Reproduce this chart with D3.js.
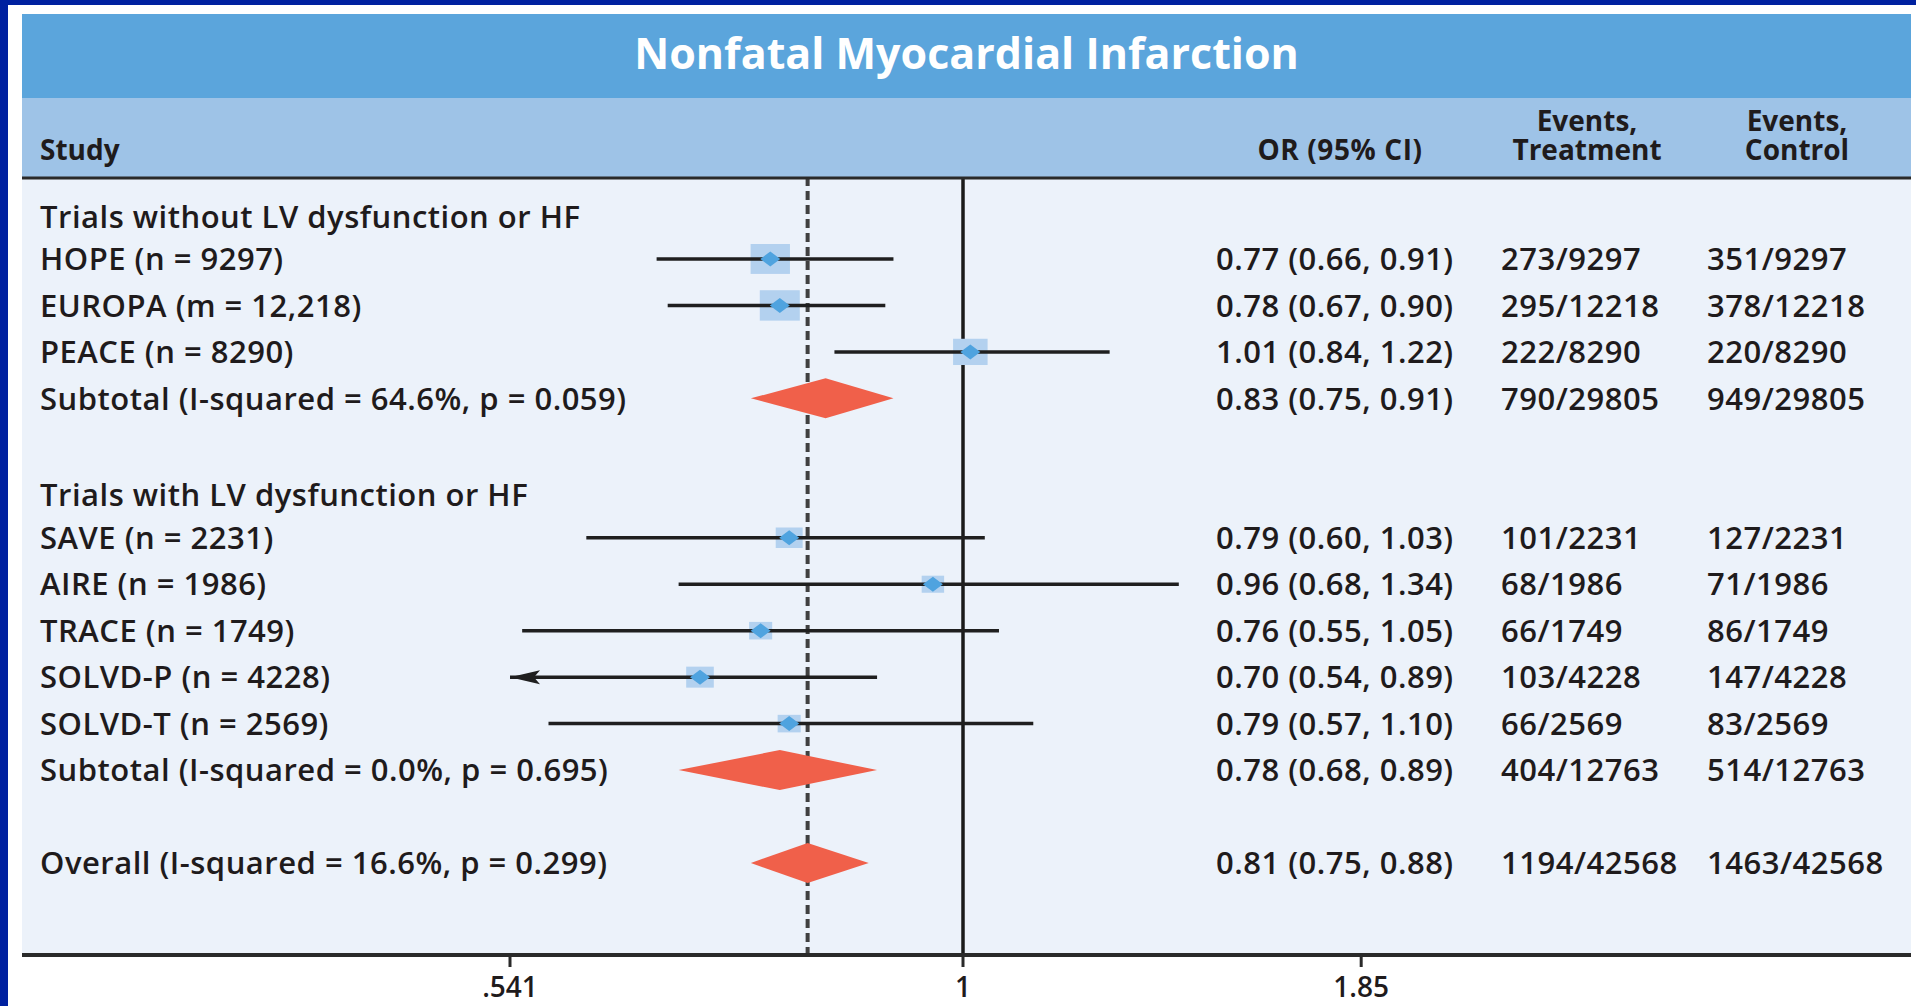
<!DOCTYPE html>
<html>
<head>
<meta charset="utf-8">
<script src="https://cdn.jsdelivr.net/npm/d3@7"></script>
<style>
  html, body { margin: 0; padding: 0; background: #0021a0; }
  svg { display: block; }
  text { font-family: "Open Sans", "Noto Sans", sans-serif; fill: #1f1b1c; }
</style>
</head>
<body>
<div id="chart"></div>
<script>
// data
var title = "Nonfatal Myocardial Infarction";
var groupLabels = ["Trials without LV dysfunction or HF", "Trials with LV dysfunction or HF"];

var studyLabels = ["HOPE (n = 9297)", "EUROPA (m = 12,218)", "PEACE (n = 8290)",
  "SAVE (n = 2231)", "AIRE (n = 1986)", "TRACE (n = 1749)", "SOLVD-P (n = 4228)", "SOLVD-T (n = 2569)"];
var studyGroup = [0, 0, 0, 1, 1, 1, 1, 1];
var studyOR = [0.77, 0.78, 1.01, 0.79, 0.96, 0.76, 0.70, 0.79];
var studyLo = [0.66, 0.67, 0.84, 0.60, 0.68, 0.55, 0.54, 0.57];
var studyHi = [0.91, 0.90, 1.22, 1.03, 1.34, 1.05, 0.89, 1.10];
var studyWeight = [20.9, 21.6, 16.1, 9.8, 6.8, 7.2, 10.3, 7.2]; // % weight, from box sizes
var studyTreat = ["273/9297", "295/12218", "222/8290", "101/2231", "68/1986", "66/1749", "103/4228", "66/2569"];
var studyCtrl = ["351/9297", "378/12218", "220/8290", "127/2231", "71/1986", "86/1749", "147/4228", "83/2569"];

var pooledLabels = ["Subtotal (I-squared = 64.6%, p = 0.059)", "Subtotal (I-squared = 0.0%, p = 0.695)",
  "Overall (I-squared = 16.6%, p = 0.299)"];
var pooledOR = [0.83, 0.78, 0.81];
var pooledLo = [0.75, 0.68, 0.75];
var pooledHi = [0.91, 0.89, 0.88];
var pooledTreat = ["790/29805", "404/12763", "1194/42568"];
var pooledCtrl = ["949/29805", "514/12763", "1463/42568"];

var axisMin = 0.541;
var tickAt = [0.541, 1, 1.716];          // where the published figure puts its ticks
var tickLabels = [".541", "1", "1.85"];

// build row list
var rows = [];
groupLabels.forEach(function(g, gi) {
  rows.push({kind: "group", label: g});
  studyLabels.forEach(function(s, i) {
    if (studyGroup[i] !== gi) return;
    rows.push({kind: "study", label: s, or: studyOR[i], lo: studyLo[i], hi: studyHi[i],
      w: studyWeight[i], t: studyTreat[i], c: studyCtrl[i]});
  });
  rows.push({kind: "pooled", label: pooledLabels[gi], or: pooledOR[gi], lo: pooledLo[gi], hi: pooledHi[gi],
    t: pooledTreat[gi], c: pooledCtrl[gi]});
  rows.push({kind: "blank"});
});
rows.push({kind: "pooled", label: pooledLabels[2], or: pooledOR[2], lo: pooledLo[2], hi: pooledHi[2],
  t: pooledTreat[2], c: pooledCtrl[2]});
rows.forEach(function(r, i) { r.idx = i; });

var W = 1916, H = 1006;
var panelL = 22, panelR = 1911;
var titleTop = 14, headTop = 98, bodyTop = 177, bodyBot = 955;

var svg = d3.select('#chart').append('svg').attr('width', W).attr('height', H);

svg.append('rect').attr('x', 8).attr('y', 5).attr('width', W - 8).attr('height', H - 5).attr('fill', '#ffffff');
svg.append('rect').attr('x', panelL).attr('y', titleTop).attr('width', panelR - panelL).attr('height', headTop - titleTop).attr('fill', '#5ba5dc');
svg.append('rect').attr('x', panelL).attr('y', headTop).attr('width', panelR - panelL).attr('height', bodyTop - headTop).attr('fill', '#9ec3e7');
svg.append('rect').attr('x', panelL).attr('y', bodyTop).attr('width', panelR - panelL).attr('height', bodyBot - bodyTop).attr('fill', '#ecf2fa');

svg.append('text').attr('x', (panelL + panelR) / 2).attr('y', 69).attr('text-anchor', 'middle')
  .style('fill', '#ffffff').style('font-size', '43px').style('font-weight', 700).text(title);

// header
var head = svg.append('g').style('font-size', '28px').style('font-weight', 700);
head.append('text').attr('x', 40).attr('y', 160).text('Study');
head.append('text').attr('x', 1340).attr('y', 160).attr('text-anchor', 'middle')
  .style('letter-spacing', '0.6px').text('OR (95% CI)');
[["Events,", "Treatment", 1587], ["Events,", "Control", 1797]].forEach(function(h) {
  var t = head.append('text').attr('text-anchor', 'middle').attr('y', 131);
  t.append('tspan').attr('x', h[2]).text(h[0]);
  t.append('tspan').attr('x', h[2]).attr('dy', 29).text(h[1]);
});

var x = d3.scaleLog().domain([axisMin, 1]).range([510, 963]);
var y = d3.scaleLinear().domain([0, rows.length - 1]).range([212.5, 863]);
var box = d3.scaleSqrt().domain([0, 21.6]).range([0, 40]);

// reference lines
svg.append('line').attr('x1', x(pooledOR[2])).attr('x2', x(pooledOR[2])).attr('y1', bodyTop).attr('y2', bodyBot)
  .attr('stroke', '#404040').attr('stroke-width', 4).attr('stroke-dasharray', '9,5');
svg.append('line').attr('x1', x(1)).attr('x2', x(1)).attr('y1', bodyTop).attr('y2', bodyBot)
  .attr('stroke', '#1a1a1a').attr('stroke-width', 3.5);

var studies = rows.filter(function(r) { return r.kind === "study"; });
var pooled = rows.filter(function(r) { return r.kind === "pooled"; });

svg.selectAll('.box').data(studies).enter().append('rect').attr('class', 'box')
  .attr('x', function(d) { return x(d.or) - box(d.w) / 2; })
  .attr('y', function(d) { return y(d.idx) - box(d.w) * 0.38; })
  .attr('width', function(d) { return box(d.w); })
  .attr('height', function(d) { return box(d.w) * 0.76; })
  .attr('fill', '#b3d1ef');

svg.selectAll('.ci').data(studies).enter().append('line').attr('class', 'ci')
  .attr('x1', function(d) { return x(Math.max(d.lo, axisMin)); })
  .attr('x2', function(d) { return x(d.hi); })
  .attr('y1', function(d) { return y(d.idx); })
  .attr('y2', function(d) { return y(d.idx); })
  .attr('stroke', '#1f1f1f').attr('stroke-width', 3.5);

// arrow where the interval runs off the axis
svg.selectAll('.arrow').data(studies.filter(function(d) { return d.lo < axisMin; })).enter()
  .append('path').attr('class', 'arrow')
  .attr('d', function(d) {
    var x0 = x(axisMin), yy = y(d.idx);
    return 'M' + x0 + ',' + yy + 'L' + (x0 + 30) + ',' + (yy - 7) + 'L' + (x0 + 24) + ',' + yy + 'L' + (x0 + 30) + ',' + (yy + 7) + 'Z';
  })
  .attr('fill', '#1f1f1f');

svg.selectAll('.pt').data(studies).enter().append('path').attr('class', 'pt')
  .attr('d', function(d) {
    var cx = x(d.or), cy = y(d.idx);
    return 'M' + (cx - 10) + ',' + cy + 'L' + cx + ',' + (cy - 7.5) + 'L' + (cx + 10) + ',' + cy + 'L' + cx + ',' + (cy + 7.5) + 'Z';
  })
  .attr('fill', '#4fa3df');

svg.selectAll('.pool').data(pooled).enter().append('path').attr('class', 'pool')
  .attr('d', function(d) {
    var cy = y(d.idx);
    return 'M' + x(d.lo) + ',' + cy + 'L' + x(d.or) + ',' + (cy - 20) + 'L' + x(d.hi) + ',' + cy + 'L' + x(d.or) + ',' + (cy + 20) + 'Z';
  })
  .attr('fill', '#f0604a');

// text columns
var fmt = d3.format('.2f');
var txt = svg.append('g').style('font-size', '31px').style('font-weight', 600).style('letter-spacing', '0.5px');
var labelled = rows.filter(function(r) { return r.kind !== "blank"; });
txt.selectAll('.lab').data(labelled).enter().append('text')
  .attr('x', 40)
  .attr('y', function(d) { return y(d.idx) + (d.kind === "group" ? 4 : 0); })
  .attr('dy', '0.36em')
  .text(function(d) { return d.label; });
var valued = rows.filter(function(r) { return r.kind === "study" || r.kind === "pooled"; });
txt.selectAll('.orv').data(valued).enter().append('text')
  .attr('x', 1216).attr('y', function(d) { return y(d.idx); }).attr('dy', '0.36em')
  .text(function(d) { return fmt(d.or) + ' (' + fmt(d.lo) + ', ' + fmt(d.hi) + ')'; });
txt.selectAll('.tr').data(valued).enter().append('text')
  .attr('x', 1501).attr('y', function(d) { return y(d.idx); }).attr('dy', '0.36em')
  .text(function(d) { return d.t; });
txt.selectAll('.ct').data(valued).enter().append('text')
  .attr('x', 1707).attr('y', function(d) { return y(d.idx); }).attr('dy', '0.36em')
  .text(function(d) { return d.c; });

// rules and axis
svg.append('line').attr('x1', panelL).attr('x2', panelR).attr('y1', bodyTop + 1).attr('y2', bodyTop + 1)
  .attr('stroke', '#2a2a2a').attr('stroke-width', 3);
var axisG = svg.append('g').attr('transform', 'translate(0,' + bodyBot + ')');
axisG.append('line').attr('x1', panelL).attr('x2', panelR).attr('stroke', '#2a2a2a').attr('stroke-width', 4);
axisG.selectAll('.tick').data(tickAt).enter().append('line')
  .attr('x1', function(d) { return x(d); }).attr('x2', function(d) { return x(d); })
  .attr('y1', 0).attr('y2', 12).attr('stroke', '#2a2a2a').attr('stroke-width', 3);
axisG.selectAll('.tl').data(tickAt).enter().append('text')
  .attr('x', function(d) { return x(d); }).attr('y', 42).attr('text-anchor', 'middle')
  .style('font-size', '28px').style('font-weight', 600)
  .text(function(d, i) { return tickLabels[i]; });
</script>
</body>
</html>
